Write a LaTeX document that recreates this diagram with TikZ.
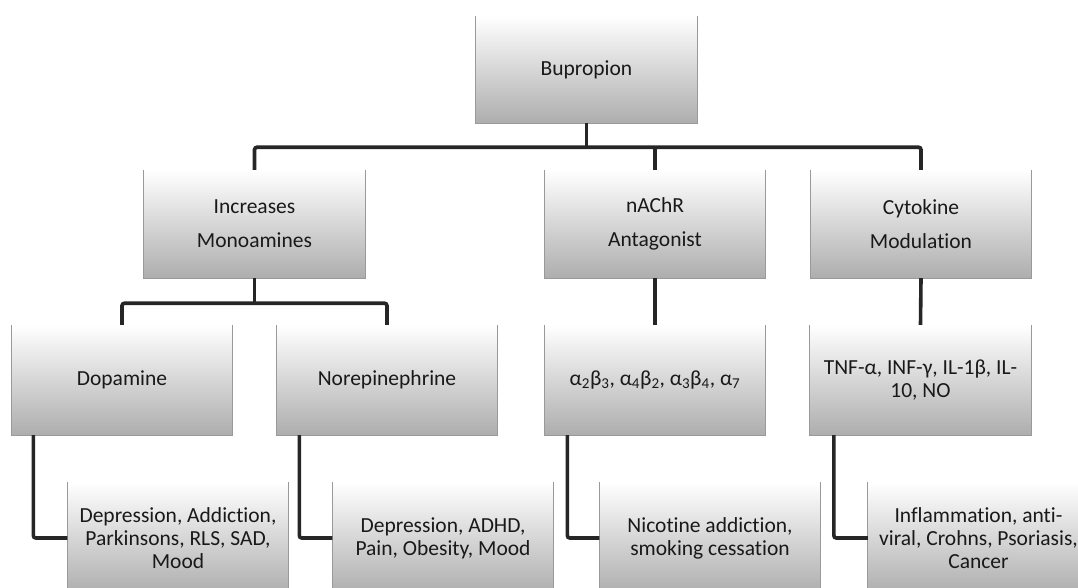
\documentclass[tikz,border=0pt]{standalone}
\usepackage{fontspec}
\setmainfont{Carlito}[Ligatures=NoCommon]
\usetikzlibrary{calc}
\begin{document}
\begin{tikzpicture}[x=1pt,y=-1pt,
  box/.style={rectangle, minimum width=221pt, minimum height=108pt, inner sep=2pt,
    align=center, top color=white, bottom color=black!32, text=black!90,
    font=\fontsize{21.5}{23}\selectfont},
  wire/.style={line width=3.6pt, draw=black!85, rounded corners=2.5pt},
  rim/.style={draw=black!40, line width=1.1pt}]
\useasboundingbox (0,0) rectangle (1078,587);
\fill[white] (0,0) rectangle (1078,587);
\clip (0,0) rectangle (1078,587);
% level 1
\node[box, minimum height=107pt] (bup) at (586.5,69.5) {Bupropion};
% level 2
\node[box] (inc) at (254.5,224) {Increases\\[11pt]Monoamines};
\node[box] (nac) at (655,224) {nAChR\\[11pt]Antagonist};
\node[box] (cyt) at (921,224) {Cytokine\\[11pt]Modulation};
% level 3
\node[box, minimum height=110pt] (dop) at (122,380) {Dopamine};
\node[box, minimum height=110pt] (nor) at (387,380) {Norepinephrine};
\node[box, minimum height=110pt] (alp) at (655,380) {α\textsubscript{2}β\textsubscript{3}, α\textsubscript{4}β\textsubscript{2}, α\textsubscript{3}β\textsubscript{4}, α\textsubscript{7}};
\node[box, minimum height=110pt] (tnf) at (920.5,380) {TNF-α, INF-γ, IL-1β, IL-\\10, NO};
% level 4
\node[box, minimum height=112pt] (d1) at (178,538) {Depression, Addiction,\\Parkinsons, RLS, SAD,\\Mood};
\node[box, minimum height=112pt] (d2) at (443,538) {Depression, ADHD,\\Pain, Obesity, Mood};
\node[box, minimum height=112pt] (d3) at (710,538) {Nicotine addiction,\\smoking cessation};
\node[box, minimum height=112pt] (d4) at (978.5,538) {Inflammation, anti-\\viral, Crohns, Psoriasis,\\Cancer};
% box rims (left, bottom, right)
\foreach \n in {bup,inc,nac,cyt,dop,nor,alp,tnf,d1,d2,d3,d4}
  \draw[rim] (\n.north west) -- (\n.south west) -- (\n.south east) -- (\n.north east);
% connectors
\coordinate (j1) at ($(bup.south)+(0,24)$);
\draw[wire] (bup.south) -- (j1);
\draw[wire] (inc.north) |- (j1) -| (cyt.north);
\draw[wire] (nac.north) -- (nac.north |- j1);
\coordinate (j2) at ($(inc.south)+(0,25)$);
\draw[wire] (inc.south) -- (j2);
\draw[wire] (dop.north) |- (j2) -| (nor.north);
\draw[wire] (nac.south) -- (alp.north);
\draw[wire] (cyt.south) -- (tnf.north);
\draw[wire] ($(dop.south west)+(22,0)$) |- (d1.west);
\draw[wire] ($(nor.south west)+(23,0)$) |- (d2.west);
\draw[wire] ($(alp.south west)+(23,0)$) |- (d3.west);
\draw[wire] ($(tnf.south west)+(24,0)$) |- (d4.west);
\end{tikzpicture}
\end{document}
